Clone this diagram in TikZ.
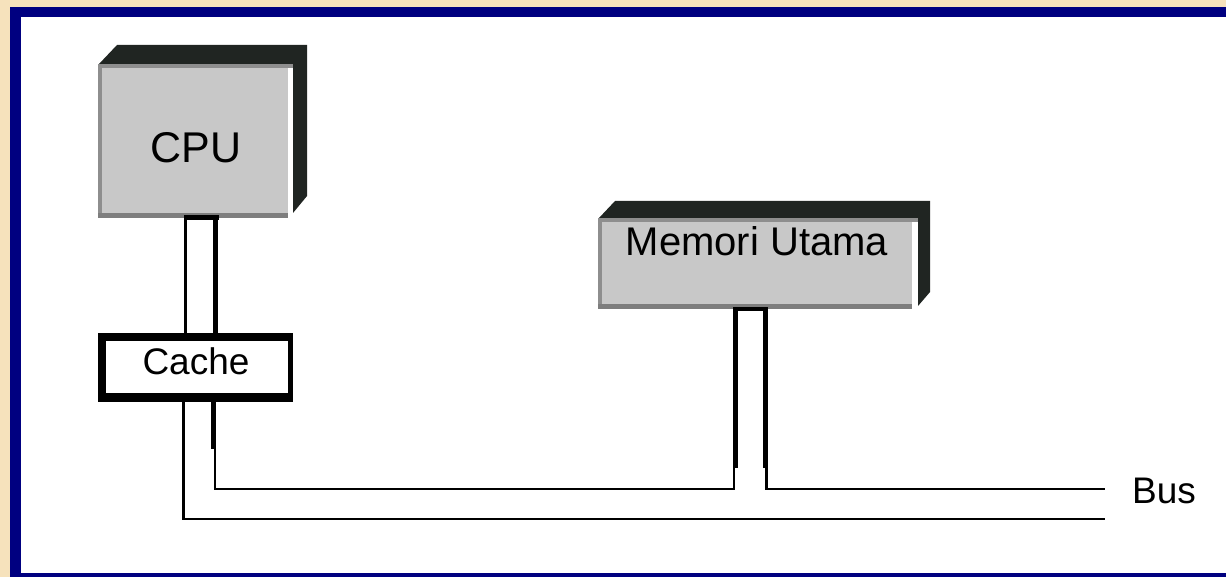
\documentclass[tikz,border=0pt]{standalone}
\usepackage{fontspec}
\setmainfont{Liberation Sans}
\usetikzlibrary{calc}
\definecolor{parch}{HTML}{F6E2BC}
\definecolor{navyframe}{HTML}{000080}
\definecolor{facegrey}{HTML}{C8C8C8}
\definecolor{bevelgrey}{HTML}{8E8E8E}
\definecolor{bevelbottom}{HTML}{7E7E7E}
\definecolor{shadowdark}{HTML}{202522}
\begin{document}
\begin{tikzpicture}[x=1pt,y=-1pt,
  face/.style={rectangle, fill=facegrey, draw=none, inner sep=0pt, outer sep=0pt, anchor=north west},
  solidbox/.style={rectangle, fill=black, draw=none, inner sep=0pt, outer sep=0pt, anchor=north west},
  lbl/.style={inner sep=0pt, outer sep=0pt, anchor=center, text=black},
  wire/.style={line width=2.8pt, black, line join=miter, line cap=butt},
  thickwire/.style={line width=5pt, black, line cap=butt},
  shade3d/.style={fill=shadowdark},
]
\useasboundingbox (0,0) rectangle (1226,577);
\clip (0,0) rectangle (1226,577);

% page background and frame
\fill[parch] (0,0) rectangle (1226,577);
\fill[navyframe] (10,7) rectangle (1240,590);
\fill[white] (21,17) rectangle (1240,573);

% ---------- CPU block ----------
\fill[shade3d] (99,64) -- (117,45) -- (307,45) -- (307,196) -- (293,213) -- (293,64) -- cycle;
\node[face, minimum width=190pt, minimum height=154pt] (cpu) at (98,64) {};
\fill[bevelgrey] (cpu.north west) rectangle ++(195,4);
\fill[bevelgrey] (cpu.north west) rectangle ++(4,154);
\fill[bevelbottom] ($(cpu.south west)+(0,-5)$) rectangle (cpu.south east);
\node[lbl, font=\fontsize{43pt}{43pt}\selectfont] (cputext) at (196,148) {CPU};

% ---------- Cache block ----------
\node[solidbox, minimum width=195pt, minimum height=69pt] (cache) at (98,333) {};
\fill[white] ($(cache.north west)+(8,8)$) rectangle ($(cache.south east)+(-5,-9)$);
\node[lbl, font=\fontsize{37pt}{37pt}\selectfont] (cachetext) at (196,361) {Cache};

% ---------- Main memory block ----------
\fill[shade3d] (599,218) -- (615,201) -- (930,201) -- (930,292) -- (918,306) -- (918,218) -- cycle;
\node[face, minimum width=314pt, minimum height=91pt] (mem) at (598,218) {};
\fill[bevelgrey] (mem.north west) rectangle ++(320,4);
\fill[bevelgrey] (mem.north west) rectangle ++(4,91);
\fill[bevelbottom] ($(mem.south west)+(0,-5)$) rectangle (mem.south east);
\node[lbl, font=\fontsize{40pt}{40pt}\selectfont] (memtext) at (757,241) {Memori Utama};

% ---------- bus rails ----------
\coordinate (cpuL) at (185.5,0);
\coordinate (cpuR) at (215.5,0);
\coordinate (cacheL) at (183.5,0);
\coordinate (cacheR) at (213.5,0);
\coordinate (cacheRthin) at (215,0);
\coordinate (memL) at (735.5,0);
\coordinate (memR) at (765.5,0);
\coordinate (memLthin) at (734,0);
\coordinate (memRthin) at (766.5,0);
\coordinate (stepA) at (0,449);
\coordinate (stepB) at (0,468);
\coordinate (railTop) at (0,489);
\coordinate (railBot) at (0,519);
\coordinate (busEnd) at (1105,0);

% CPU -- cache pipe
\fill (184,215) rectangle (219,220);
\draw[wire] (cpuL |- cpu.south) -- (cpuL |- cache.north);
\draw[thickwire] (cpuR |- cpu.south) -- (cpuR |- cache.north);

% memory pipe
\fill (733,307) rectangle (768,311);
\draw[thickwire] (memL |- mem.south) -- (memL |- stepB);
\draw[thickwire] (memR |- mem.south) -- (memR |- stepB);

% cache down to the bus
\draw[thickwire] (cacheR |- cache.south) -- (cacheR |- stepA);
\draw[wire] (cacheRthin |- stepA) -- (cacheRthin |- railTop) -- (memLthin |- railTop) -- (memLthin |- stepB);
\draw[wire] (memRthin |- stepB) -- (memRthin |- railTop) -- (busEnd |- railTop);
\draw[wire] (cacheL |- cache.south) -- (cacheL |- railBot) -- (busEnd |- railBot);

\node[lbl, font=\fontsize{37pt}{37pt}\selectfont] (bus) at (1164,491) {Bus};
\end{tikzpicture}
\end{document}
